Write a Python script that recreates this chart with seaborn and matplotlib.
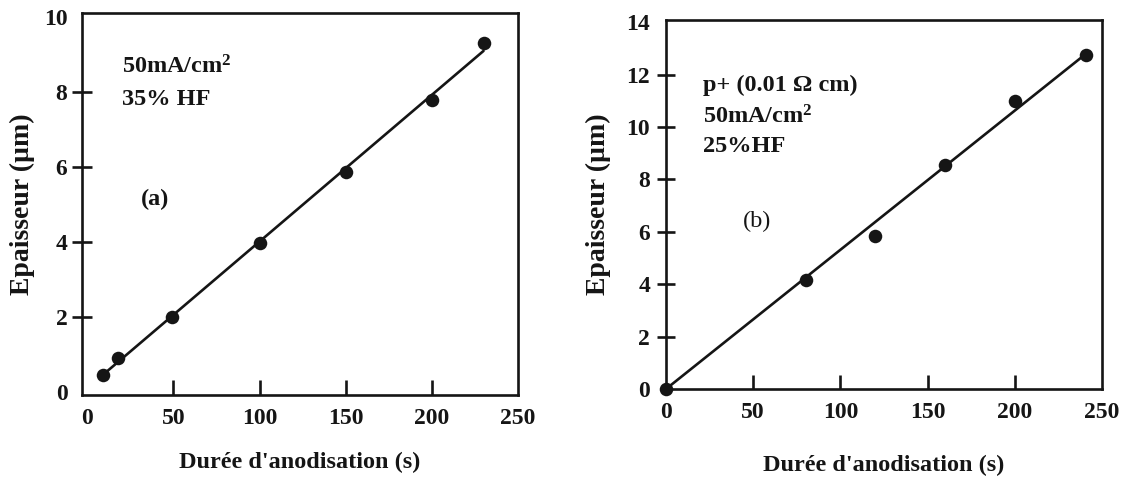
import numpy as np
import pandas as pd
import matplotlib
matplotlib.use("Agg")
import matplotlib.pyplot as plt
import seaborn as sns

# ---- data ----
time_a = [9, 18, 49, 100, 150, 200, 230]
thick_a = [0.45, 0.9, 2.0, 3.98, 5.85, 7.77, 9.3]
time_b = [0, 80, 120, 160, 200, 241]
thick_b = [0.0, 4.15, 5.85, 8.55, 11.0, 12.75]
xticks = [0, 50, 100, 150, 200, 250]
yticks_a = [0, 2, 4, 6, 8, 10]
yticks_b = [0, 2, 4, 6, 8, 10, 12, 14]
xlabel = "Durée d'anodisation (s)"
ylabel = "Epaisseur (µm)"
notes_a = ["50mA/cm$^{2}$", "35% HF"]
notes_b = ["p+ (0.01 Ω cm)", "50mA/cm$^{2}$", "25%HF"]
tag_a = "(a)"
tag_b = "(b)"

sns.set_theme(style="white")
plt.rcParams['font.family'] = ['Liberation Serif', 'DejaVu Serif']
plt.rcParams['font.weight'] = 'bold'
plt.rcParams['mathtext.fontset'] = 'custom'
plt.rcParams['mathtext.rm'] = 'Liberation Serif:bold'
plt.rcParams['mathtext.bf'] = 'Liberation Serif:bold'
plt.rcParams['mathtext.it'] = 'Liberation Serif:bold'

INK = "#151515"
fig = plt.figure(figsize=(11.32, 4.84), dpi=100)
axA = fig.add_axes([82/1132, 1-395/484, 436/1132, 382/484])
axB = fig.add_axes([666/1132, 1-389/484, 436/1132, 369/484])

dfa = pd.DataFrame({"t": time_a, "e": thick_a})
dfb = pd.DataFrame({"t": time_b, "e": thick_b})

# panel (a): linear regression
sns.regplot(data=dfa, x="t", y="e", ax=axA, ci=None, scatter=False,
            line_kws=dict(color=INK, lw=1.9))
sns.scatterplot(data=dfa, x="t", y="e", ax=axA, color=INK, s=95,
                edgecolor=INK, linewidth=0, zorder=5, clip_on=False)

# panel (b): fit through origin
tb = np.array(time_b, float)
eb = np.array(thick_b, float)
slope = (tb * eb).sum() / (tb * tb).sum()
fit_b = pd.DataFrame({"t": [0.0, tb.max()], "e": [0.0, slope * tb.max()]})
sns.lineplot(data=fit_b, x="t", y="e", ax=axB, color=INK, lw=1.9)
sns.scatterplot(data=dfb, x="t", y="e", ax=axB, color=INK, s=95,
                edgecolor=INK, linewidth=0, zorder=5, clip_on=False)

axA.set_xlim(-3, 250)
axA.set_ylim(-0.08, 10.1)
axB.set_xlim(0, 250)
axB.set_ylim(0, 14.08)

axA.tick_params(axis='y', direction='inout', length=15, width=1.9, color=INK, pad=3, left=True)
axA.tick_params(axis='x', direction='in', length=11, width=1.9, color=INK, pad=9, bottom=True)
axB.tick_params(axis='y', direction='inout', length=13, width=1.9, color=INK, pad=5, left=True)
axB.tick_params(axis='x', direction='in', length=10, width=1.9, color=INK, pad=9, bottom=True)

for ax, yt in ((axA, yticks_a), (axB, yticks_b)):
    ax.set_xticks(xticks)
    ax.set_yticks(yt)
    ax.set_xticklabels([str(v) for v in xticks])
    ax.set_yticklabels([str(v) for v in yt])
    for s in ax.spines.values():
        s.set_visible(True)
        s.set_color(INK)
        s.set_linewidth(1.9)
    for lab in ax.get_xticklabels() + ax.get_yticklabels():
        lab.set_fontsize(17)
        lab.set_fontweight('bold')
        lab.set_color(INK)
    ax.set_xlabel(xlabel, fontsize=17.5, fontweight='bold', color=INK)
    ax.set_ylabel(ylabel, fontsize=20, fontweight='bold', color=INK)

fig.canvas.draw()
for ax in (axA, axB):
    # tick lines at the ends coincide with the frame: hide them
    for tk in (ax.xaxis.get_major_ticks()[0], ax.xaxis.get_major_ticks()[-1],
               ax.yaxis.get_major_ticks()[0], ax.yaxis.get_major_ticks()[-1]):
        tk.tick1line.set_visible(False)
        tk.tick2line.set_visible(False)

axA.yaxis.set_label_coords(-0.108, 0.5)
axA.xaxis.set_label_coords(0.5, -0.15)
axB.yaxis.set_label_coords(-0.127, 0.5)
axB.xaxis.set_label_coords(0.5, -0.178)

# annotations
for txt, yy in zip(notes_a, [8.67, 7.79]):
    axA.text(20.3, yy, txt, fontsize=17.5, fontweight='bold', color=INK, ha='left', va='center')
axA.text(39.4, 5.12, tag_a, fontsize=17.5, fontweight='bold', color=INK, ha='center', va='center')
for txt, yy in zip(notes_b, [11.6, 10.4, 9.26]):
    axB.text(21, yy, txt, fontsize=17.5, fontweight='bold', color=INK, ha='left', va='center')
axB.text(52, 6.4, tag_b, fontsize=17.5, fontweight='normal', color=INK, ha='center', va='center')

fig.savefig("out.png", dpi=100)
